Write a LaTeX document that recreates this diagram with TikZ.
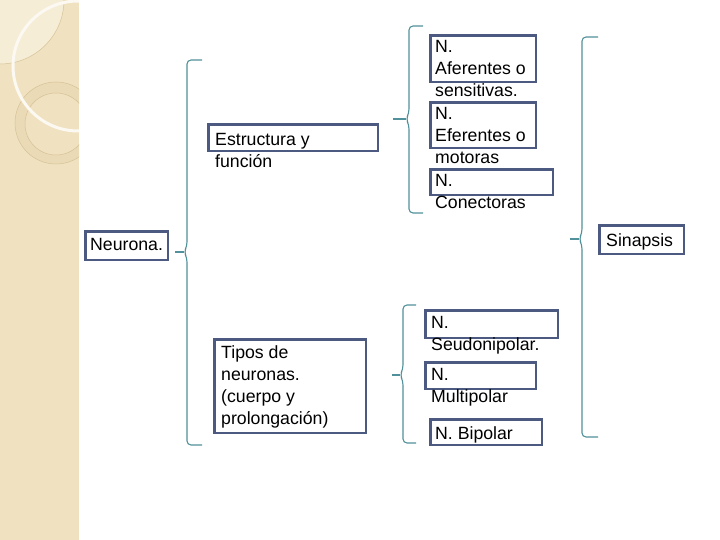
\documentclass[tikz,border=0pt]{standalone}
\usepackage{fontspec}
\setmainfont{Liberation Sans}
\definecolor{boxc}{RGB}{76,90,130}
\definecolor{brc}{RGB}{80,145,155}
\definecolor{strip}{RGB}{240,226,192}
\definecolor{stripl}{RGB}{246,237,215}
\definecolor{tan}{RGB}{214,194,150}
\newcommand\fsz{\fontsize{17.7}{22}\selectfont}
\newcommand\mybrace[7]{% name, x, top, tip, bottom, tipx, endx
  \coordinate (#1-tip) at (#6,#4);
  \draw[brline,rounded corners=4] (#7,#3) -- (#2,#3) -- (#2,#4-6) -- (#2-3,#4) -- (#2,#4+6) -- (#2,#5) -- (#7,#5);
  \draw[brline] (#2-3,#4) -- (#1-tip);}
\begin{document}
\begin{tikzpicture}[x=1pt,y=-1pt,
  bx/.style={draw=boxc,line width=2.6pt,fill=white,inner sep=0,anchor=north west},
  txt/.style={anchor=base west,inner sep=0,font=\fsz},
  brline/.style={draw=brc,line width=1.1pt}]
\useasboundingbox (0,0) rectangle (720,540);
\fill[white] (0,0) rectangle (720,540);
% left decorative strip
\begin{scope}
\clip (0,0) rectangle (79,540);
\fill[strip] (0,0) rectangle (79,540);
\fill[stripl] (0,0) circle (64);
\draw[tan,line width=0.5pt] (0,0) circle (64);
\fill[tan!25!strip,even odd rule] (56,123) circle (41) (56,124) circle (31);
\draw[tan,line width=0.5pt] (56,123) circle (41);
\draw[tan,line width=0.5pt] (56,124) circle (31);
\draw[white!80!strip,line width=3pt] (78,66) circle (65);
\end{scope}
% boxes
\newcommand\boxat[5]{\node[bx,minimum width=#4-#2-2.6,minimum height=#5-#3-2.6] (#1) at (#2+1.3,#3+1.3) {};}
\boxat{neurona}{83}{229}{168}{260}
\boxat{estructura}{206}{122}{378}{151}
\boxat{tipos}{212}{337}{366}{433}
\boxat{aferentes}{428}{33}{536}{82}
\boxat{eferentes}{428}{100}{536}{148}
\boxat{conectoras}{428}{167}{553}{195}
\boxat{sinapsis}{597}{223}{684}{254}
\boxat{seudo}{423}{308}{558}{338}
\boxat{multi}{423}{360}{536}{389}
\boxat{bipolar}{428}{417}{542}{445}
% texts
\node[txt] (tneurona) at (90,250) {\begin{tabular}[t]{@{}l@{}}Neurona.\end{tabular}};
\node[txt] (testr) at (215,146) {\begin{tabular}[t]{@{}l@{}}Estructura y\\función\end{tabular}};
\node[txt] (ttipos) at (221,358) {\begin{tabular}[t]{@{}l@{}}Tipos de\\neuronas.\\(cuerpo y\\prolongación)\end{tabular}};
\node[txt] (taf) at (435,53) {\begin{tabular}[t]{@{}l@{}}N.\\Aferentes o\\sensitivas.\end{tabular}};
\node[txt] (tef) at (435,120) {\begin{tabular}[t]{@{}l@{}}N.\\Eferentes o\\motoras\end{tabular}};
\node[txt] (tcon) at (435,187) {\begin{tabular}[t]{@{}l@{}}N.\\Conectoras\end{tabular}};
\node[txt] (tsin) at (606,247) {\begin{tabular}[t]{@{}l@{}}Sinapsis\end{tabular}};
\node[txt] (tseu) at (431,328) {\begin{tabular}[t]{@{}l@{}}N.\\Seudonipolar.\end{tabular}};
\node[txt] (tmul) at (431,380) {\begin{tabular}[t]{@{}l@{}}N.\\Multipolar\end{tabular}};
\node[txt] (tbip) at (435,439) {\begin{tabular}[t]{@{}l@{}}N. Bipolar\end{tabular}};
% braces
\mybrace{b1}{187}{60}{252}{445}{175}{202}
\mybrace{b2}{409}{26}{119}{213}{393}{423}
\mybrace{b3}{403}{305}{375}{443}{392}{416}
\mybrace{b4}{582}{37}{239}{437}{570}{598}
\end{tikzpicture}
\end{document}
